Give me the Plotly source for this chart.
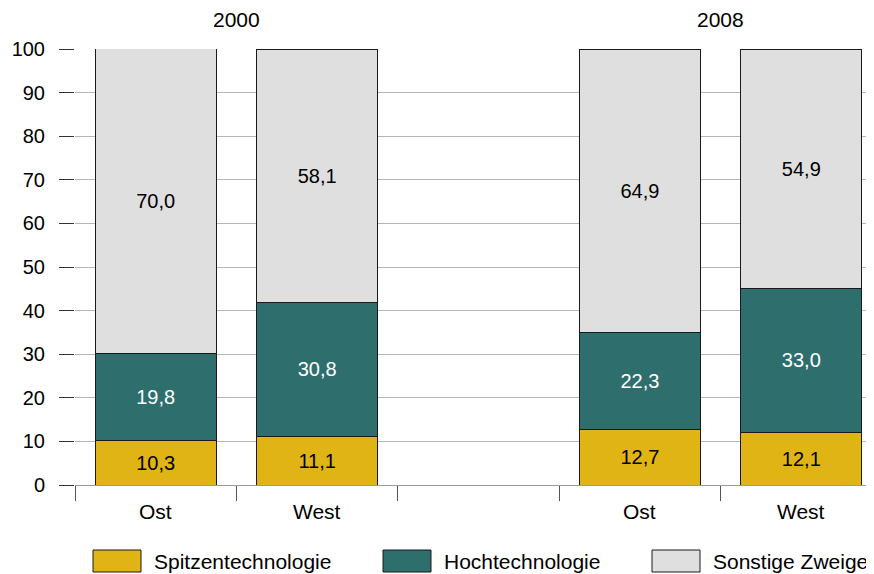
import plotly.graph_objects as go

# ---- data ----
years = ["2000", "2008"]
regions = ["Ost", "West"]
series_names = ["Spitzentechnologie", "Hochtechnologie", "Sonstige Zweige"]
spitzen = [10.3, 11.1, 12.7, 12.1]
hoch = [19.8, 30.8, 22.3, 33.0]
sonstige = [70.0, 58.1, 64.9, 54.9]
y_ticks = [0, 10, 20, 30, 40, 50, 60, 70, 80, 90, 100]

# ---- styling ----
colors = ["#E1B415", "#2E6E6D", "#DFDFDF"]
text_colors = ["#000000", "#FFFFFF", "#000000"]
FONT = "Liberation Sans, Arial, sans-serif"
FS = 20      # numbers
FS_W = 21    # words / year labels

OFF = 8  # page body margin offset
W, H = 874 - OFF, 574 - OFF
# target pixel geometry in the screenshot
P_LEFT, P_TOP, P_BOTTOM, P_RIGHT = 75, 49, 485, 874
ML, MT = P_LEFT - OFF, P_TOP - OFF
MB = H - (P_BOTTOM - OFF)
MR = W - (P_RIGHT - OFF)
PW, PH = W - ML - MR, H - MT - MB

# x positions: two groups with an empty slot between
xpos = [0, 1, 3, 4]
x_labels = regions + regions
boundaries = [-0.5, 0.5, 1.5, 2.5, 3.5]
year_pos = [0.5, 3.5]


def fmt(v):
    return f"{v:.1f}".replace(".", ",")


fig = go.Figure()
for name, vals, col, tcol in zip(series_names, [spitzen, hoch, sonstige], colors, text_colors):
    fig.add_trace(go.Bar(
        x=xpos, y=vals, name=name, width=0.75,
        marker=dict(color=col, line=dict(color="#1a1a1a", width=1)),
        text=[fmt(v) for v in vals], textposition="inside",
        insidetextanchor="middle",
        textfont=dict(family=FONT, size=FS, color=tcol),
        showlegend=False, hoverinfo="skip",
    ))

fig.update_layout(
    barmode="stack",
    width=W, height=H,
    margin=dict(l=ML, r=MR, t=MT, b=MB, pad=0),
    paper_bgcolor="white", plot_bgcolor="white",
    font=dict(family=FONT, size=FS, color="#000"),
    separators=",.",
    showlegend=False,
)

fig.update_xaxes(
    range=[-0.5, -0.5 + PW / 161.4], tickvals=boundaries, showticklabels=False,
    ticks="outside", ticklen=15, tickcolor="#555", tickwidth=1,
    showgrid=False, zeroline=False, showline=True, linecolor="#9a9a9a", linewidth=1,
)
fig.update_yaxes(
    range=[0, 100], tickvals=y_ticks, ticks="outside", ticklen=15,
    tickcolor="#333", tickwidth=1, showgrid=True, gridcolor="#b5b5b5", gridwidth=1,
    zeroline=False, showline=False, tickfont=dict(size=FS, color="#000"),
    ticklabelstandoff=10,
)


def px_x(X):
    return (X - P_LEFT) / PW


def px_y(Y):
    return (P_BOTTOM - Y) / PH


# category labels under bars
for xp, lab in zip(xpos, x_labels):
    fig.add_annotation(x=xp, xref="x", y=px_y(511), yref="paper",
                       text=lab, showarrow=False, yanchor="middle", xanchor="center",
                       font=dict(size=FS_W, color="#000"))

# year labels on top
for xp, yr in zip(year_pos, years):
    fig.add_annotation(x=xp, xref="x", y=px_y(19), yref="paper",
                       text=yr, showarrow=False, yanchor="middle", xanchor="center",
                       font=dict(size=FS_W, color="#000"))

# custom legend
legend_box_x = [93, 383, 652]
for bx, name, col in zip(legend_box_x, series_names, colors):
    fig.add_shape(type="rect", xref="paper", yref="paper",
                  x0=px_x(bx), x1=px_x(bx + 48), y0=px_y(572), y1=px_y(550),
                  fillcolor=col, line=dict(color="#1a1a1a", width=1))
    fig.add_annotation(xref="paper", yref="paper", x=px_x(bx + 59), y=px_y(561),
                       text=name, showarrow=False, xanchor="left", yanchor="middle",
                       font=dict(size=FS_W, color="#000"))

fig.write_html("out.html")
